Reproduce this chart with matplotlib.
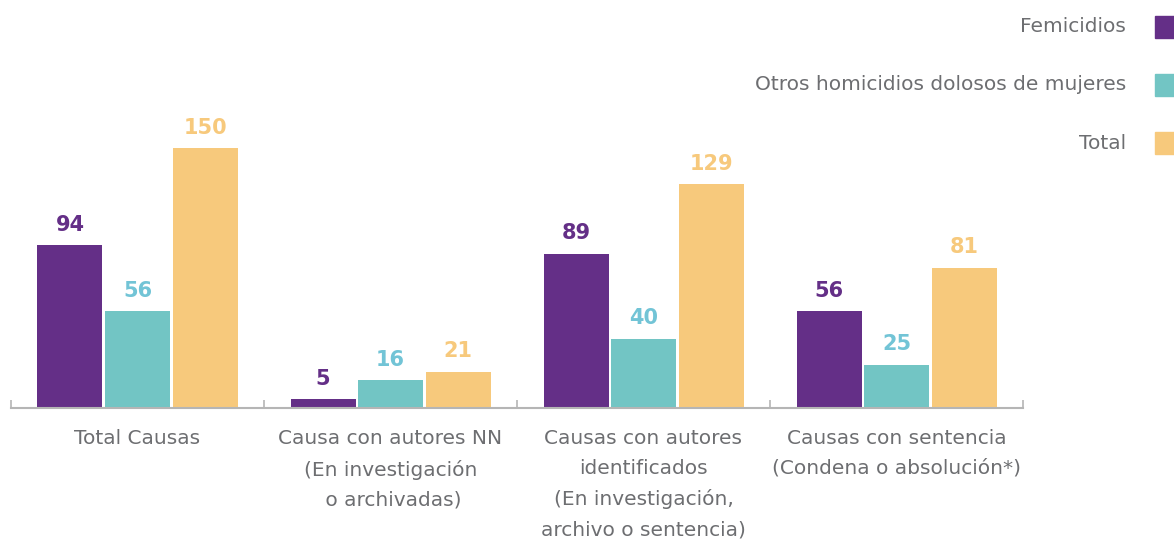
import matplotlib.pyplot as plt
from matplotlib.patches import Rectangle
import numpy as np

categories = [
    "Total Causas",
    "Causa con autores NN\n(En investigación\n o archivadas)",
    "Causas con autores\nidentificados\n(En investigación,\narchivo o sentencia)",
    "Causas con sentencia\n(Condena o absolución*)",
]
series_names = ["Femicidios", "Otros homicidios dolosos de mujeres", "Total"]
femicidios = [94, 5, 89, 56]
otros = [56, 16, 40, 25]
total = [150, 21, 129, 81]

bar_colors = ["#642F87", "#72C5C4", "#F7C97C"]
label_colors = ["#642F87", "#72C4D6", "#F7C97C"]
gray = "#6D6E71"
font = "DejaVu Sans"

W, H = 1174, 544
fig = plt.figure(figsize=(W / 100, H / 100), dpi=100)
ax = fig.add_axes([11 / W, (H - 408) / H, (1023 - 11) / W, 408 / H])

x = np.arange(len(categories))
bw = 65 / 253
step = 67.5 / 253
for i, vals in enumerate([femicidios, otros, total]):
    pos = x + (i - 1) * step
    ax.bar(pos, vals, width=bw, color=bar_colors[i], zorder=2)
    for p, v in zip(pos, vals):
        ax.text(p, v + 6, str(v), ha="center", va="bottom", color=label_colors[i],
                fontsize=15, fontweight="bold", family=font)

ax.set_xlim(-0.5, 3.5)
ax.set_ylim(0, 408 / (260 / 150))
for s in ["top", "right", "left"]:
    ax.spines[s].set_visible(False)
ax.spines["bottom"].set_color("#B5B5B5")
ax.spines["bottom"].set_linewidth(1.5)
ax.set_yticks([])
ax.set_xticks(np.arange(-0.5, 4, 1))
ax.set_xticklabels([])
ax.tick_params(axis="x", direction="in", length=6, width=1.2, color="#B5B5B5")
ax.set_xticks(x, minor=True)
ax.set_xticklabels(categories, minor=True, fontsize=14.5, color=gray, family=font,
                   linespacing=1.73, va="top")
ax.tick_params(axis="x", which="minor", length=0, pad=15)

# legend at right
ys = [27, 85, 143]
for name, c, yy in zip(series_names, bar_colors, ys):
    fig.text(1126 / W, 1 - yy / H, name, ha="right", va="center", fontsize=14.5,
             color=gray, family=font)
    fig.patches.append(Rectangle((1155 / W, 1 - (yy + 11) / H), 22 / W, 22 / H,
                                 transform=fig.transFigure, color=c))

fig.savefig("out.png", dpi=100)
